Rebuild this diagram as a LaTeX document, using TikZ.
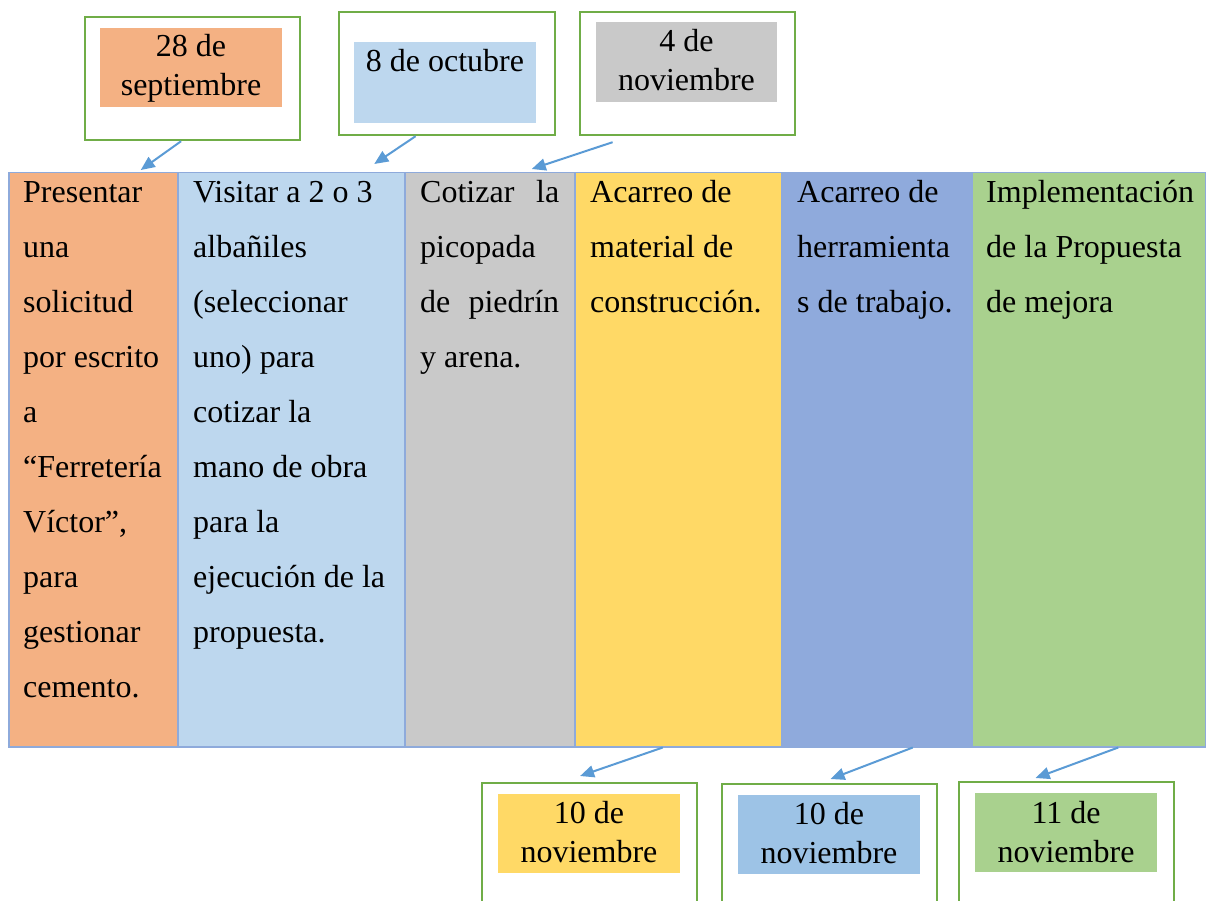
\documentclass[tikz,border=0pt]{standalone}
\usepackage{fontspec}
\setmainfont{Liberation Serif}
\usetikzlibrary{arrows.meta}
\definecolor{cOrange}{HTML}{F4B183}
\definecolor{cLBlue}{HTML}{BDD7EE}
\definecolor{cGray}{HTML}{C9C9C9}
\definecolor{cYellow}{HTML}{FFD966}
\definecolor{cBlue}{HTML}{8FAADC}
\definecolor{cGreen}{HTML}{A9D18E}
\definecolor{cMBlue}{HTML}{9DC3E6}
\definecolor{cFrame}{HTML}{70AD47}
\definecolor{cBorder}{HTML}{8EAADB}
\definecolor{cArrow}{HTML}{5B9BD5}
\tikzset{
  colbox/.style={draw=cBorder, line width=1.5pt, rectangle, anchor=north west, minimum height=574pt, inner sep=0pt},
  celltext/.style={anchor=base west, align=left, inner sep=0pt, font=\fontsize{32}{55}\selectfont},
  framebox/.style={draw=cFrame, line width=2.2pt, rectangle, anchor=north west, fill=white, inner sep=0pt},
  datefill/.style={rectangle, anchor=north west, inner sep=0pt},
  datetext/.style={anchor=base, align=center, inner sep=0pt, font=\fontsize{32}{39}\selectfont},
  arr/.style={draw=cArrow, line width=2pt, -{Triangle[length=14pt,width=12pt]}}
}
\begin{document}
\begin{tikzpicture}[x=1pt,y=-1pt]
\useasboundingbox (0,0) rectangle (1206,901);
\clip (0,0) rectangle (1206,901);
% table columns
\node[colbox, fill=cOrange, minimum width=169pt] (c1) at (8,172) {};
\node[colbox, fill=cLBlue, minimum width=227pt] (c2) at (177,172) {};
\node[colbox, fill=cGray, minimum width=170pt] (c3) at (404,172) {};
\node[colbox, fill=cYellow, minimum width=207pt] (c4) at (574,172) {};
\node[colbox, fill=cBlue, minimum width=190pt] (c5) at (781,172) {};
\node[colbox, fill=cGreen, minimum width=234pt] (c6) at (971,172) {};
% cell texts (anchored at the baseline of their last line)
\node[celltext] (t1) at (23,697) {Presentar\\una\\solicitud\\por escrito\\a\\“Ferretería\\Víctor”,\\para\\gestionar\\cemento.};
\node[celltext] (t2) at (193,642) {Visitar a 2 o 3\\albañiles\\(seleccionar\\uno) para\\cotizar la\\mano de obra\\para la\\ejecución de la\\propuesta.};
\node[celltext] (t3) at (420,367) {\makebox[139pt][s]{Cotizar la}\\picopada\\\makebox[139pt][s]{de piedrín}\\y arena.};
\node[celltext] (t4) at (590,312) {Acarreo de\\material de\\construcción.};
\node[celltext] (t5) at (797,312) {Acarreo de\\herramienta\\s de trabajo.};
\node[celltext] (t6) at (986,312) {Implementación\\de la Propuesta\\de mejora};
% top date boxes
\node[framebox, minimum width=215pt, minimum height=123pt] (b1) at (83.5,16) {};
\node[datefill, fill=cOrange, minimum width=182pt, minimum height=79pt] (f1) at (100,28) {};
\node[datetext] (d1) at (191,96) {28 de\\septiembre};
\node[framebox, minimum width=216pt, minimum height=123pt] (b2) at (338,11) {};
\node[datefill, fill=cLBlue, minimum width=182pt, minimum height=81pt] (f2) at (354,42) {};
\node[datetext] (d2) at (445,72) {8 de octubre};
\node[framebox, minimum width=215pt, minimum height=123pt] (b3) at (578.5,11) {};
\node[datefill, fill=cGray, minimum width=181pt, minimum height=80pt] (f3) at (596,22) {};
\node[datetext] (d3) at (686.5,91) {4 de\\noviembre};
% bottom date boxes
\node[framebox, minimum width=215pt, minimum height=140pt] (b4) at (481,782) {};
\node[datefill, fill=cYellow, minimum width=182pt, minimum height=79pt] (f4) at (498,794) {};
\node[datetext] (d4) at (589,862) {10 de\\noviembre};
\node[framebox, minimum width=215pt, minimum height=140pt] (b5) at (721,783) {};
\node[datefill, fill=cMBlue, minimum width=182pt, minimum height=79pt] (f5) at (738,795) {};
\node[datetext] (d5) at (829,863) {10 de\\noviembre};
\node[framebox, minimum width=215pt, minimum height=140pt] (b6) at (958,781) {};
\node[datefill, fill=cGreen, minimum width=182pt, minimum height=79pt] (f6) at (975,793) {};
\node[datetext] (d6) at (1066,862) {11 de\\noviembre};
% arrows
\draw[arr] ([xshift=-11pt]b1.south) -- ([xshift=47.5pt,yshift=2pt]c1.north);
\draw[arr] ([xshift=-31.5pt]b2.south) -- ([xshift=83pt,yshift=8pt]c2.north);
\draw[arr] ([xshift=-74.5pt,yshift=-6pt]b3.south) -- ([xshift=42pt,yshift=3pt]c3.north);
\draw[arr] ([xshift=-15.5pt]c4.south) -- ([xshift=-9.5pt,yshift=6pt]b4.north);
\draw[arr] ([xshift=36pt]c5.south) -- ([xshift=1pt,yshift=4pt]b5.north);
\draw[arr] ([xshift=29.5pt]c6.south) -- ([xshift=-31pt,yshift=3pt]b6.north);
\end{tikzpicture}
\end{document}
